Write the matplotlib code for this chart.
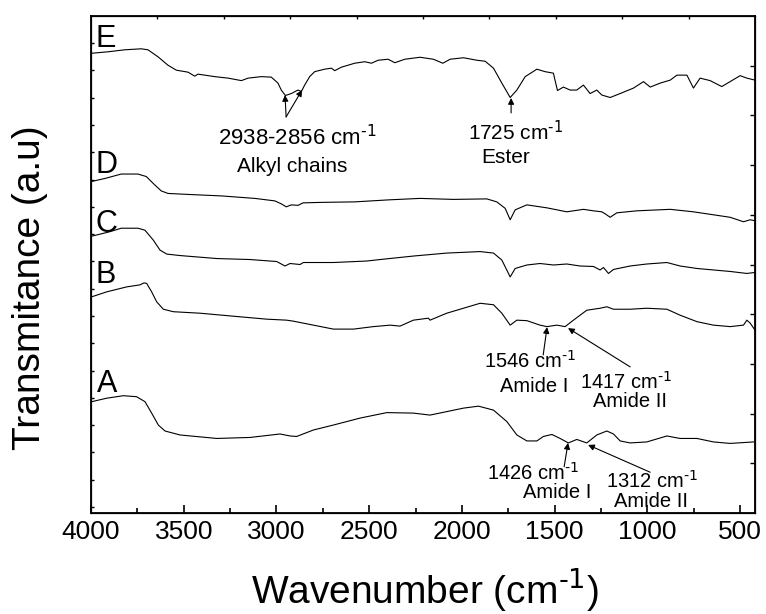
import numpy as np
import matplotlib
matplotlib.use('Agg')
import matplotlib.pyplot as plt

plt.rcParams['font.family'] = ['Liberation Sans', 'DejaVu Sans']
plt.rcParams['mathtext.default'] = 'regular'

# FTIR spectra (wavenumber in cm-1, transmittance in a.u., offset traces)
wn_E = [3998, 3908, 3818, 3729, 3693, 3639, 3585, 3540, 3477, 3441, 3423, 3333, 3261, 3189, 3153,
        3082, 3028, 2992, 2974, 2952, 2920, 2884, 2866, 2848, 2821, 2794, 2740, 2704, 2686, 2650,
        2578, 2524, 2488, 2452, 2398, 2362, 2308, 2226, 2154, 2103, 2064, 1992, 1920, 1875, 1830,
        1785, 1740, 1704, 1659, 1596, 1552, 1507, 1485, 1453, 1417, 1381, 1345, 1309, 1273, 1246,
        1201, 1147, 1075, 1021, 985, 931, 877, 841, 787, 752, 716, 662, 599, 554, 500, 464, 420]
t_E = [92.5, 92.8, 93.2, 93.4, 93.2, 91.8, 90.1, 89.1, 88.7, 87.9, 88.3, 87.8, 87.5, 87.0, 87.5,
       87.8, 87.7, 86.5, 85.1, 84.0, 84.4, 85.1, 84.8, 86.1, 87.8, 88.8, 89.3, 89.5, 89.0, 89.7,
       90.5, 90.8, 90.5, 91.1, 91.3, 90.6, 91.3, 91.7, 91.3, 90.5, 91.3, 91.6, 91.1, 90.9, 89.5,
       86.5, 83.6, 85.1, 87.8, 89.3, 88.8, 88.5, 85.0, 85.7, 85.1, 85.1, 86.1, 84.4, 85.1, 84.1,
       83.6, 84.4, 85.5, 86.8, 85.7, 86.5, 87.1, 88.1, 88.1, 85.5, 87.5, 87.0, 85.8, 86.8, 88.0, 87.5, 87.1]

wn_D = [3998, 3926, 3837, 3747, 3702, 3656, 3621, 3585, 3477, 3297, 3117, 3009, 2974, 2947, 2920,
        2884, 2857, 2758, 2578, 2398, 2226, 2046, 1866, 1812, 1767, 1740, 1713, 1650, 1542, 1488,
        1435, 1345, 1291, 1246, 1228, 1201, 1165, 1057, 877, 752, 644, 554, 482, 446, 420]
t_D = [66.7, 67.3, 68.2, 68.2, 67.7, 66.0, 64.8, 64.3, 64.1, 63.8, 63.3, 62.8, 62.2, 61.6, 62.0,
       61.9, 62.4, 62.5, 62.6, 63.0, 63.3, 63.1, 63.2, 62.6, 61.3, 59.0, 61.0, 62.0, 61.4, 61.0,
       60.6, 61.1, 60.8, 60.6, 60.2, 59.5, 60.4, 60.8, 61.1, 60.6, 60.0, 59.5, 58.6, 59.0, 58.8]

wn_C = [3996, 3898, 3837, 3747, 3709, 3664, 3628, 3592, 3520, 3322, 3143, 2999, 2954, 2927, 2873,
        2855, 2693, 2513, 2441, 2262, 2082, 1902, 1830, 1785, 1740, 1713, 1650, 1579, 1507, 1435,
        1363, 1291, 1255, 1237, 1210, 1183, 1093, 1003, 895, 824, 733, 644, 554, 464, 420]
t_C = [55.7, 56.6, 57.3, 57.3, 56.9, 54.9, 52.9, 52.1, 51.8, 51.2, 51.0, 50.6, 49.7, 50.2, 50.0,
       50.4, 50.4, 50.7, 51.0, 51.7, 52.3, 52.6, 52.3, 50.9, 47.5, 49.2, 49.9, 50.2, 49.9, 50.1,
       49.7, 49.6, 48.9, 49.4, 48.2, 49.0, 49.7, 50.1, 50.4, 49.7, 49.2, 48.9, 48.6, 48.2, 48.4]

wn_B = [3996, 3915, 3807, 3736, 3714, 3700, 3673, 3646, 3610, 3556, 3412, 3233, 3052, 2945, 2909,
        2801, 2693, 2585, 2478, 2387, 2334, 2262, 2181, 2172, 2082, 1992, 1902, 1830, 1785, 1740,
        1704, 1650, 1579, 1542, 1488, 1444, 1399, 1327, 1255, 1219, 1183, 1093, 1003, 895, 824,
        733, 644, 554, 482, 464, 446, 420]
t_B = [43.5, 44.5, 45.5, 45.9, 46.3, 46.2, 44.5, 42.5, 41.0, 40.5, 40.2, 39.6, 39.0, 38.8, 38.6,
       37.8, 37.0, 37.0, 37.5, 37.8, 37.6, 38.8, 39.2, 38.8, 40.2, 41.2, 42.2, 41.9, 40.2, 37.8,
       38.8, 38.7, 37.8, 37.5, 37.8, 37.5, 38.8, 40.8, 41.2, 41.5, 41.0, 41.0, 41.2, 41.0, 39.8,
       38.5, 37.8, 37.5, 37.8, 38.8, 38.2, 36.8]

wn_A = [3996, 3915, 3826, 3754, 3709, 3673, 3637, 3601, 3520, 3322, 3143, 2981, 2927, 2891, 2801,
        2693, 2549, 2405, 2262, 2172, 2082, 1992, 1911, 1830, 1758, 1704, 1650, 1596, 1561, 1515,
        1471, 1426, 1381, 1327, 1273, 1219, 1183, 1147, 1093, 1003, 895, 824, 733, 644, 554, 428]
t_A = [22.4, 23.1, 23.6, 23.4, 22.4, 20.1, 17.7, 16.5, 15.7, 15.0, 15.2, 15.9, 15.5, 15.4, 16.7,
       17.7, 19.1, 20.2, 20.1, 19.7, 20.4, 21.1, 21.5, 20.7, 18.4, 15.7, 14.5, 14.5, 15.4, 15.8,
       15.0, 14.1, 14.8, 14.1, 15.7, 16.5, 15.9, 14.5, 14.1, 14.3, 15.5, 15.0, 15.0, 14.3, 14.0, 14.3]

spectra = [('A', wn_A, t_A), ('B', wn_B, t_B), ('C', wn_C, t_C), ('D', wn_D, t_D), ('E', wn_E, t_E)]
# trace letters: (x, baseline y)
letter_pos = {'E': (3978, 93.8), 'D': (3978, 68.4), 'C': (3978, 56.5), 'B': (3978, 46.3), 'A': (3968, 24.3)}

CM = r' cm$^{\text{-1}}$'

fig = plt.figure(figsize=(7.66, 6.14), dpi=100)
ax = fig.add_axes([91 / 766, 101 / 614, 664 / 766, 497 / 614])

for name, wn, t in spectra:
    ax.plot(wn, t, color='black', lw=0.8)
    lx, ly = letter_pos[name]
    ax.text(lx, ly, name, fontsize=22, ha='left', va='baseline')

ax.set_xlim(4000, 420)
ax.set_ylim(0, 100)
ax.set_xticks(np.arange(4000, 499, -500))
ax.set_xticks(np.arange(3750, 420, -500), minor=True)
ax.set_yticks(np.arange(1.2, 99, 5.49))
ax.set_yticklabels([])
ax.tick_params(axis='x', which='major', direction='in', length=6, width=1.2, labelsize=19, pad=5)
ax.tick_params(axis='x', which='minor', direction='in', length=3.5, width=1.2)
ax.tick_params(axis='y', which='major', direction='in', length=2, width=1)
for s in ax.spines.values():
    s.set_linewidth(1.3)

# right and top tick marks (separate scales in the original)
axr = ax.twinx()
axr.set_ylim(0, 100)
axr.set_yticks(np.arange(10, 95, 10))
axr.set_yticklabels([])
axr.tick_params(axis='y', direction='in', length=3.5, width=1)
axt = ax.twiny()
axt.set_xlim(0, 1)
axt.set_xticks(np.arange(0.1, 0.95, 0.1))
axt.set_xticklabels([])
axt.tick_params(axis='x', direction='in', length=2, width=1)

arrow = dict(arrowstyle='-|>', color='black', lw=0.8, mutation_scale=9, shrinkA=0, shrinkB=0)

# E: alkyl chains and ester
ax.annotate('', xy=(2954, 84.1), xytext=(2948, 79.7), arrowprops=arrow)
ax.annotate('', xy=(2862, 85.1), xytext=(2948, 79.7), arrowprops=arrow)
ax.text(2886, 74.0, '2938-2856' + CM, fontsize=16, ha='center', va='baseline')
ax.text(2913, 68.6, 'Alkyl chains', fontsize=15, ha='center', va='baseline')
ax.annotate('', xy=(1735, 83.5), xytext=(1735, 80.5), arrowprops=arrow)
ax.text(1713, 75.1, '1725' + CM, fontsize=15, ha='center', va='baseline')
ax.text(1762, 70.4, 'Ester', fontsize=15, ha='center', va='baseline')

# B: amide bands
ax.annotate('', xy=(1541, 37.4), xytext=(1562, 31.8), arrowprops=arrow)
ax.annotate('', xy=(1428, 37.2), xytext=(1093, 29.4), arrowprops=arrow)
ax.text(1632, 29.2, '1546' + CM, fontsize=14.5, ha='center', va='baseline')
ax.text(1611, 24.3, 'Amide I', fontsize=14.5, ha='center', va='baseline')
ax.text(1115, 24.9, '1417' + CM, fontsize=14.5, ha='center', va='baseline')
ax.text(1093, 21.3, 'Amide II', fontsize=14.5, ha='center', va='baseline')

# A: amide bands
ax.annotate('', xy=(1428, 14.1), xytext=(1449, 9.3), arrowprops=arrow)
ax.annotate('', xy=(1320, 13.7), xytext=(985, 8.2), arrowprops=arrow)
ax.text(1616, 6.6, '1426' + CM, fontsize=14.5, ha='center', va='baseline')
ax.text(1487, 3.0, 'Amide I', fontsize=14.5, ha='center', va='baseline')
ax.text(977, 5.0, '1312' + CM, fontsize=14.5, ha='center', va='baseline')
ax.text(983, 1.2, 'Amide II', fontsize=14.5, ha='center', va='baseline')

fig.text(30 / 766, 1 - 288 / 614, 'Transmitance (a.u)', rotation=90, fontsize=28,
         ha='center', va='center')
fig.text(425 / 766, 1 - 603 / 614, 'Wavenumber (cm$^{\\text{-1}}$)', fontsize=28,
         ha='center', va='baseline')

fig.savefig('out.png', dpi=100)
